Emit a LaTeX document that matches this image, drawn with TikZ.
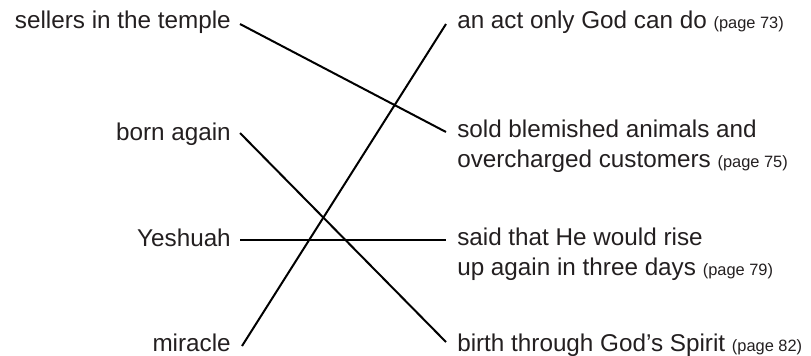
\documentclass[tikz,border=0pt]{standalone}
\usepackage{fontspec}
\setmainfont{Liberation Sans}
\definecolor{ink}{HTML}{231F20}
\newcommand\pgtxt[1]{{\fontsize{12.3}{14}\selectfont #1}}
\begin{document}
\begin{tikzpicture}[x=0.75pt,y=-0.75pt,
  lbl/.style={inner sep=0pt,text=ink,font=\fontsize{18.2}{22}\selectfont},
  lft/.style={lbl,anchor=base east},
  rgt/.style={lbl,anchor=base west,align=left},
  link/.style={line width=1.5pt,black}]
\useasboundingbox (0,0) rectangle (811,355);
% left items
\node[lft] (sellers) at (231,28) {sellers in the temple};
\node[lft] (born) at (231,140) {born again};
\node[lft] (yesh) at (231,246) {Yeshuah};
\node[lft] (mir) at (231,351) {miracle};
% right items (base anchor = baseline of last line)
\node[rgt] (act) at (457,28) {an act only God can do \pgtxt{(page 73)}};
\node[rgt] (sold) at (457,167) {sold blemished animals and\\overcharged customers \pgtxt{(page 75)}};
\node[rgt] (rise) at (457,275) {said that He would rise\\up again in three days \pgtxt{(page 79)}};
\node[rgt] (birth) at (457,351) {birth through God’s Spirit \pgtxt{(page 82)}};
% connector ends
\coordinate (sellersE) at (240,24);
\coordinate (bornE) at (240,133);
\coordinate (yeshE) at (240,240);
\coordinate (mirE) at (242,346);
\coordinate (actW) at (446,24);
\coordinate (soldW) at (446,132);
\coordinate (riseW) at (446,240);
\coordinate (birthW) at (446,342);
\draw[link] (sellersE) -- (soldW);
\draw[link] (bornE) -- (birthW);
\draw[link] (yeshE) -- (riseW);
\draw[link] (mirE) -- (actW);
\end{tikzpicture}
\end{document}
